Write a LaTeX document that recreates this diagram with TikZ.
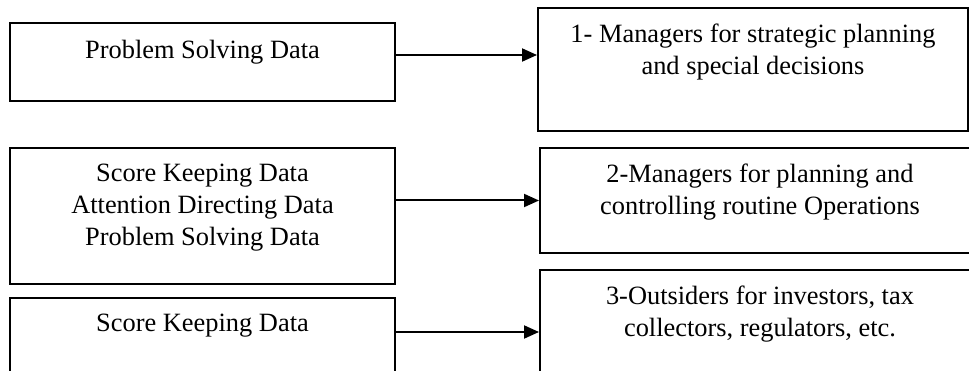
\documentclass[tikz,border=0pt]{standalone}
\usepackage{fontspec}
\setmainfont{Liberation Serif}
\usetikzlibrary{arrows.meta}

\begin{document}
\begin{tikzpicture}[x=1pt,y=-1pt,
    box/.style={draw,line width=2pt,inner sep=0pt},
    boxtext/.style={anchor=north,align=center,inner sep=0pt,yshift=-17pt,
      font=\fontsize{26.4}{31.7}\selectfont},
    link/.style={line width=2pt,-{Triangle[length=15pt,width=13pt]}}]
  \clip (0,0) rectangle (969,371);
  % kinds of data on the left
  \node[box,minimum width=385pt,minimum height=77.5pt] (solving) at (202.5,62.25) {};
  \node[box,minimum width=385pt,minimum height=136pt] (mixed) at (202.5,216) {};
  \node[box,minimum width=385pt,minimum height=102pt] (keeping) at (202.5,349) {};
  \node[boxtext] (solvingtext) at (solving.north) {Problem Solving Data};
  \node[boxtext] (mixedtext) at (mixed.north) {Score Keeping Data\\Attention Directing Data\\Problem Solving Data};
  \node[boxtext] (keepingtext) at (keeping.north) {Score Keeping Data};
  % users on the right
  \node[box,minimum width=430pt,minimum height=123pt] (strategic) at (753,69.5) {};
  \node[box,minimum width=440pt,minimum height=105pt] (routine) at (760,200.5) {};
  \node[box,minimum width=440pt,minimum height=124pt] (outsiders) at (760,332) {};
  \node[boxtext] (strategictext) at (strategic.north) {1- Managers for strategic planning\\and special decisions};
  \node[boxtext] (routinetext) at (routine.north) {2-Managers for planning and\\controlling routine Operations};
  \node[boxtext] (outsiderstext) at (outsiders.north) {3-Outsiders for investors, tax\\collectors, regulators, etc.};
  % arrows
  \path (solving.north east) ++(0,32.5) coordinate (s1);
  \draw[link] (s1) -- (s1 -| strategic.west);
  \draw[link] (routine.west -| mixed.east) -- (routine.west);
  \draw[link] (outsiders.west -| keeping.east) -- (outsiders.west);
\end{tikzpicture}
\end{document}
